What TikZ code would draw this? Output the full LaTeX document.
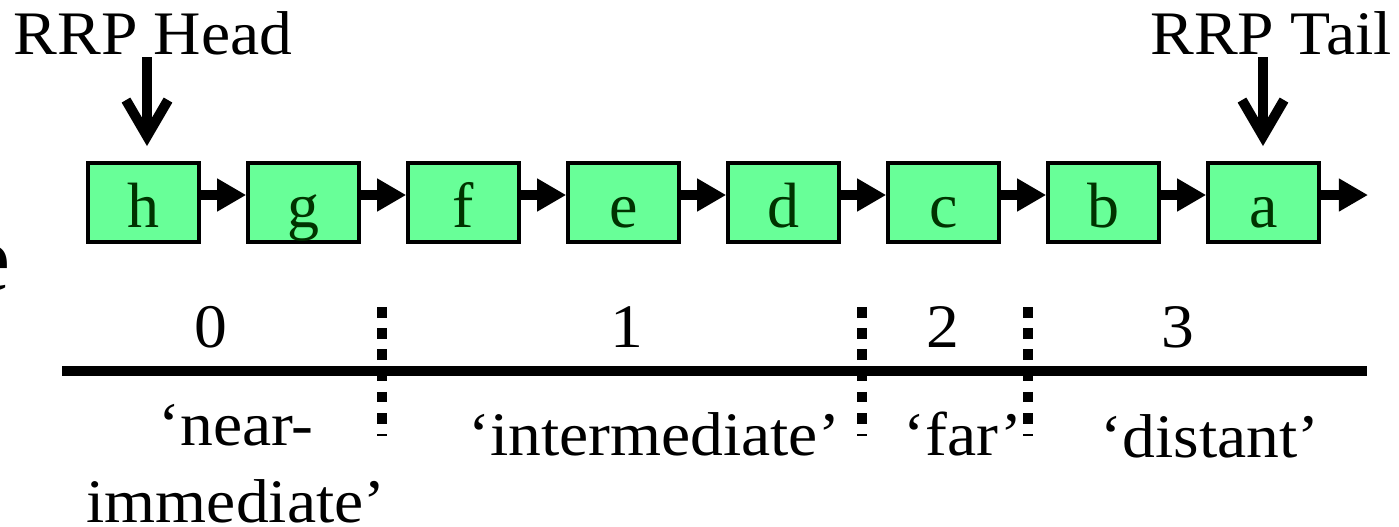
\documentclass[tikz,border=0pt]{standalone}
\usepackage{fontspec}
\setmainfont{Liberation Serif}
\newfontfamily\labfont[FakeStretch=1.06]{Liberation Serif}
\usetikzlibrary{arrows.meta,calc}
\definecolor{boxfill}{RGB}{104,255,152}
\definecolor{boxtext}{RGB}{0,51,0}
\tikzset{
  cell/.style={draw=black,line width=1pt,fill=boxfill,minimum width=1.11cm,minimum height=0.79cm,
    inner sep=0pt,text height=0.49cm,text depth=0cm,text=boxtext,font=\fontsize{18.2}{20}\selectfont},
  link/.style={line width=0.1cm,-{Triangle[length=0.29cm,width=0.31cm]}},
  ptr/.style={line width=0.1cm,-{Straight Barb[length=0.36cm,width=0.42cm]}},
  lbl/.style={inner sep=0pt,anchor=base,font=\labfont\fontsize{17.6}{22}\selectfont},
  sep/.style={line width=0.1cm,dash pattern=on 0.105cm off 0.107cm},
  axisline/.style={line width=0.1cm}
}
\begin{document}
\begin{tikzpicture}[x=0.01cm,y=-0.01cm]
\useasboundingbox (0,0) rectangle (1399,526);
% partial text at left edge
\node[inner sep=0pt,anchor=base east,font=\fontsize{27}{30}\selectfont] (cut) at (11,290) {e};
% boxes
\node[cell] (h) at (143.5,202.5) {h};
\node[cell] (g) at (303.5,202.5) {g};
\node[cell] (f) at (463.5,202.5) {f};
\node[cell] (e) at (623.5,202.5) {e};
\node[cell] (d) at (783.5,202.5) {d};
\node[cell] (c) at (943.5,202.5) {c};
\node[cell] (b) at (1103.5,202.5) {b};
\node[cell] (a) at (1263.5,202.5) {a};
\coordinate (end) at (1368,195);
\foreach \p/\q in {h/g,g/f,f/e,e/d,d/c,c/b,b/a}{
  \draw[link] ($(\p.east)+(0,-7.5)$) -- ($(\q.west)+(0,-7.5)$);
}
\draw[link] ($(a.east)+(0,-7.5)$) -- (end);
% head / tail labels
\node[lbl] (head) at (153,54) {RRP Head};
\node[lbl] (tail) at (1271,54) {RRP Tail};
\coordinate (hs) at (147,57);
\coordinate (ht) at (147,146);
\coordinate (ts) at (1263,57);
\coordinate (tt) at (1263,146);
\draw[ptr] (hs) -- (ht);
\draw[ptr] (ts) -- (tt);
% axis
\coordinate (ax1) at (62,371);
\coordinate (ax2) at (1367,371);
\draw[axisline] (ax1) -- (ax2);
\foreach \x/\n in {382/s1,862/s2,1028/s3}{
  \coordinate (\n a) at (\x,307);
  \coordinate (\n b) at (\x,436);
  \draw[sep] (\n a) -- (\n b);
}
% digits
\node[lbl] (n0) at (211,347) {0};
\node[lbl] (n1) at (627,347) {1};
\node[lbl] (n2) at (943,347) {2};
\node[lbl] (n3) at (1178,347) {3};
% names
\node[lbl] (near) at (236,445) {‘near-};
\node[lbl] (imm) at (236,522) {immediate’};
\node[lbl] (inter) at (654,455) {‘intermediate’};
\node[lbl] (far) at (963,455) {‘far’};
\node[lbl] (dist) at (1210,457) {‘distant’};
\end{tikzpicture}
\end{document}
